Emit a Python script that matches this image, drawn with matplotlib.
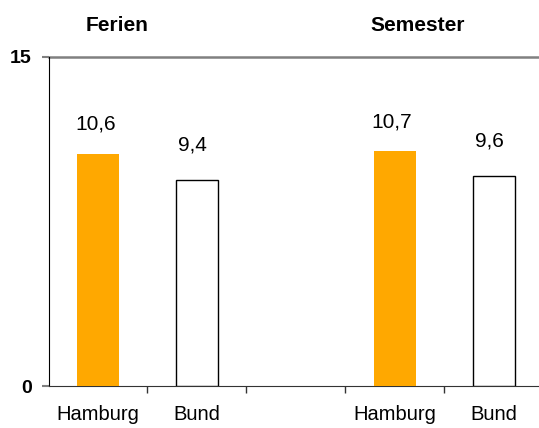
import numpy as np
import matplotlib.pyplot as plt

# Hamburg vs. Bund, Ferien / Semester
groups = ['Ferien', 'Semester']
labels = ['Hamburg', 'Bund']
hamburg = [10.6, 10.7]
bund = [9.4, 9.6]

plt.rcParams['font.family'] = ['Liberation Sans', 'DejaVu Sans']

fig = plt.figure(figsize=(5.39, 4.28), dpi=100)
ax = fig.add_axes([0.09, 0.097, 0.918, 0.77])

# slots: Hamburg, Bund, (gap), Hamburg, Bund
pos_h = np.array([0, 3])
pos_b = pos_h + 1
w = 0.42

ax.bar(pos_h, hamburg, width=w, color='#FFA800', edgecolor='none', zorder=3)
ax.bar(pos_b, bund, width=w, color='white', edgecolor='black', linewidth=1.0, zorder=3)

def fmt(v):
    return f'{v:.1f}'.replace('.', ',')

for x, v in zip(pos_h, hamburg):
    ax.annotate(fmt(v), (x, v), xytext=(-2, 17), textcoords='offset points',
                ha='center', va='baseline', fontsize=15)
for x, v in zip(pos_b, bund):
    ax.annotate(fmt(v), (x, v), xytext=(-3, 21), textcoords='offset points',
                ha='center', va='baseline', fontsize=15)

ax.set_xlim(-0.5, 4.5)
ax.set_ylim(0, 15)
ax.set_yticks([0, 15])
ax.set_yticklabels(['0', '15'], fontweight='bold', fontsize=14)
ax.axhline(15, color='#808080', lw=1.8, zorder=1, clip_on=False)

ax.set_xticks(list(pos_h) + list(pos_b))
ax.set_xticklabels(labels[:1] * 2 + labels[1:] * 2, fontsize=14.5)
ax.set_xticks([0.5, 1.5, 2.5, 3.5], minor=True)
ax.tick_params(axis='x', which='major', length=0, pad=13)
ax.tick_params(axis='x', which='minor', length=5, width=1, color='#333333', direction='out')
ax.tick_params(axis='y', length=5, width=1.5, color='#808080', pad=7)

for s in ['top', 'right']:
    ax.spines[s].set_visible(False)
ax.spines['left'].set_color('black')
ax.spines['bottom'].set_color('#333333')

for gx, g in zip([0.19, 3.23], groups):
    ax.text(gx, 1.095, g, transform=ax.get_xaxis_transform(), ha='center', va='center',
            fontsize=15, fontweight='bold')

fig.savefig('out.png', dpi=100)
